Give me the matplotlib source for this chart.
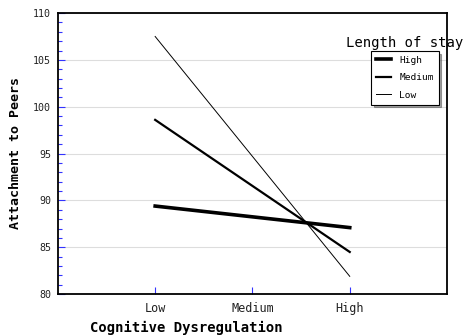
import matplotlib
matplotlib.use('Agg')
import matplotlib.pyplot as plt
from matplotlib.ticker import MultipleLocator

levels = ['Low', 'Medium', 'High']
x_pos = [1, 3]          # Low and High on the x axis
stay_groups = ['High', 'Medium', 'Low']
high_stay = [89.4, 87.1]
medium_stay = [98.6, 84.5]
low_stay = [107.5, 81.9]

fig = plt.figure(figsize=(4.63, 3.35), dpi=100)
ax = fig.add_axes([0.125, 0.122, 0.8405, 0.839])

mono = 'DejaVu Sans Mono'
ax.plot(x_pos, high_stay, color='black', lw=2.6, label=stay_groups[0])
ax.plot(x_pos, medium_stay, color='black', lw=1.6, label=stay_groups[1])
ax.plot(x_pos, low_stay, color='black', lw=0.7, label=stay_groups[2])

ax.set_xlim(0, 4)
ax.set_ylim(80, 110)
ax.set_xticks([1, 2, 3])
ax.set_xticklabels(levels, family=mono, fontsize=8.5)
ax.yaxis.set_major_locator(MultipleLocator(5))
ax.yaxis.set_minor_locator(MultipleLocator(1))
ax.grid(axis='y', color='#dddddd', lw=0.8)
ax.set_axisbelow(True)
for lab in ax.get_yticklabels():
    lab.set_family(mono)
    lab.set_fontsize(7.2)
ax.tick_params(axis='both', which='both', direction='in', color='#3333ff')
ax.tick_params(axis='y', which='major', length=5, width=0.8, labelcolor='#222222', pad=5)
ax.tick_params(axis='y', which='minor', length=3, width=0.8)
ax.tick_params(axis='x', length=5, width=0.8, pad=6, labelcolor='#222222')
for s in ax.spines.values():
    s.set_linewidth(1.3)

fig.text(90 / 463, 1 - 328 / 335, 'Cognitive Dysregulation', family=mono,
         fontweight='bold', fontsize=10, ha='left', va='center')
fig.text(16 / 463, 1 - 153 / 335, 'Attachment to Peers', family=mono,
         fontweight='bold', fontsize=9.5, ha='center', va='center', rotation=90)

fig.text(1.0, 1 - 43 / 335, 'Length of stay', family=mono, fontsize=10,
         ha='right', va='center')
leg = ax.legend(loc='upper left', bbox_to_anchor=((371 - 58) / 389, (294 - 51) / 281),
                fancybox=False, shadow=True, framealpha=1, edgecolor='black',
                borderpad=0.5, handlelength=1.6, handletextpad=0.9,
                labelspacing=0.9, borderaxespad=0,
                prop={'family': mono, 'size': 6.8})
leg.get_frame().set_linewidth(0.8)

fig.savefig('out.png', dpi=100)
